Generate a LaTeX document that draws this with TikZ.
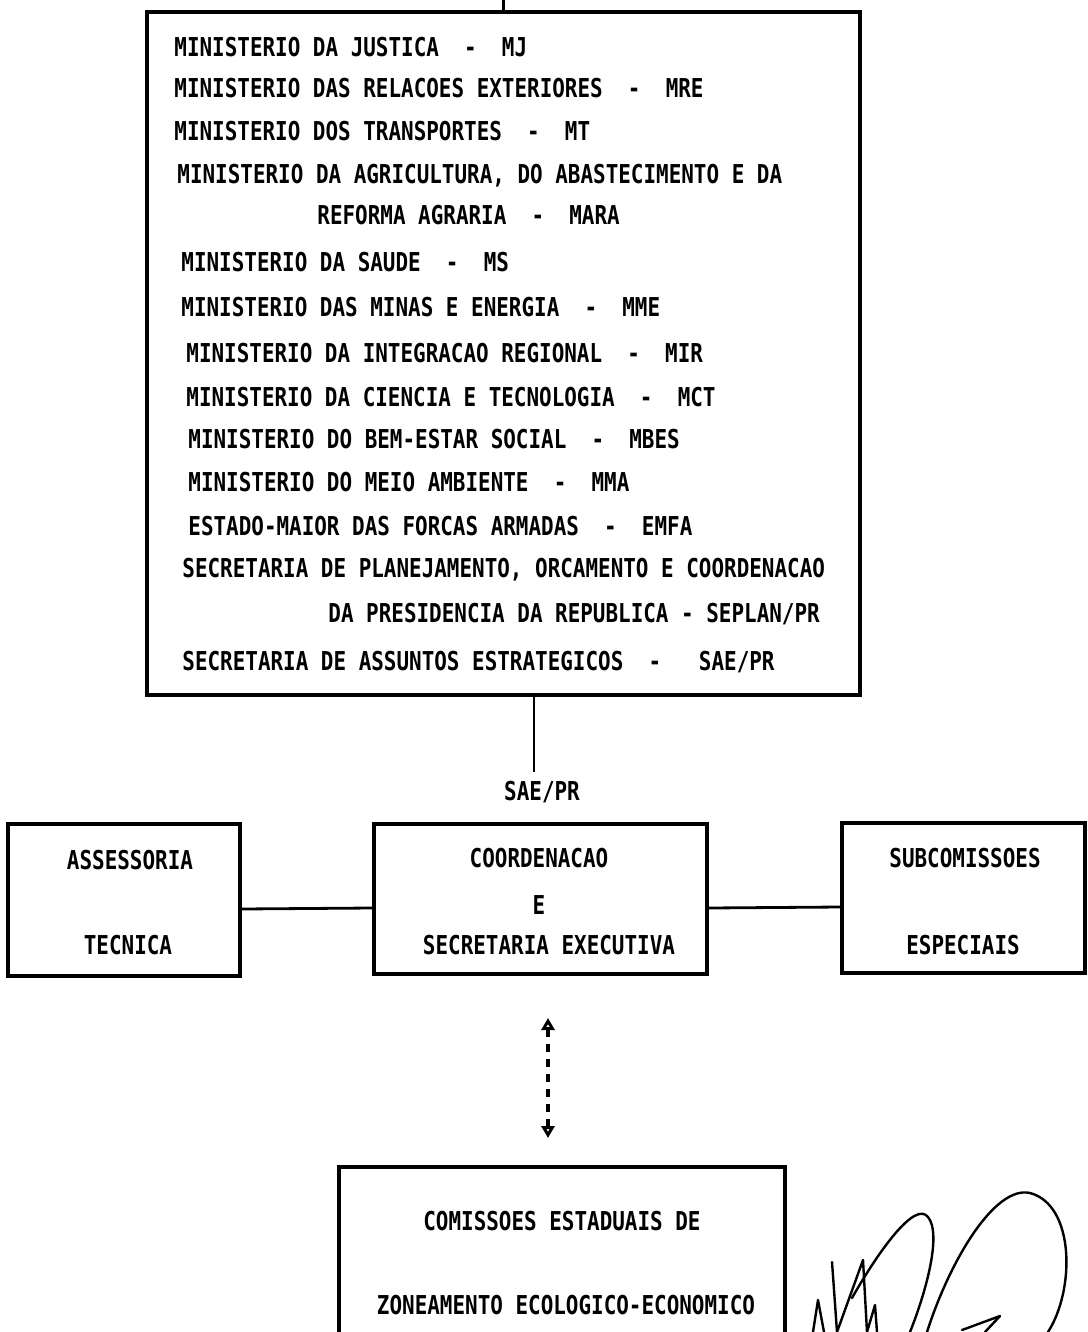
\documentclass[tikz,border=0pt]{standalone}
\usepackage{fontspec}
\setmonofont{DejaVu Sans Mono}[FakeStretch=0.805]
\usetikzlibrary{arrows.meta}

% dash with two spaces on each side, as typed
\newcommand{\dsh}{~~-~~}

\tikzset{
  box/.style={draw, line width=1.9pt, inner sep=0pt},
  txt/.style={inner sep=0pt, font=\fontsize{13}{16}\selectfont\ttfamily\bfseries},
  link/.style={line width=1.4pt},
  dblarrow/.style={line width=1.8pt, dash pattern=on 4pt off 3.5pt,
    {Triangle[open,length=6pt,width=6.5pt]}-{Triangle[open,length=6pt,width=6.5pt]}},
  sign/.style={line width=1.2pt, line cap=round, line join=round}
}

\begin{document}
\begin{tikzpicture}[x=0.5pt, y=-0.5pt]
    \useasboundingbox (0,0) rectangle (1087,1332);
    \clip (0,0) rectangle (1087,1332);

    % Box with the members
    \node[box, minimum width=356.5pt, minimum height=341.5pt] (members) at (503.5,353.5) {};
    \coordinate (up) at (503.5,0);
    \draw[link] (members.north) -- (up);

    \node[txt, anchor=west] (mj)   at (174,47)  {MINISTERIO DA JUSTICA\dsh MJ};
    \node[txt, anchor=west] (mre)  at (174,88)  {MINISTERIO DAS RELACOES EXTERIORES\dsh MRE};
    \node[txt, anchor=west] (mt)   at (174,131) {MINISTERIO DOS TRANSPORTES\dsh MT};
    \node[txt, anchor=west] (mara) at (177,176) {MINISTERIO DA AGRICULTURA, DO ABASTECIMENTO E DA};
    \node[txt, anchor=west] (mara2) at (317,215) {REFORMA AGRARIA\dsh MARA};
    \node[txt, anchor=west] (ms)   at (181,262) {MINISTERIO DA SAUDE\dsh MS};
    \node[txt, anchor=west] (mme)  at (181,307) {MINISTERIO DAS MINAS E ENERGIA\dsh MME};
    \node[txt, anchor=west] (mir)  at (186,353) {MINISTERIO DA INTEGRACAO REGIONAL\dsh MIR};
    \node[txt, anchor=west] (mct)  at (186,397) {MINISTERIO DA CIENCIA E TECNOLOGIA\dsh MCT};
    \node[txt, anchor=west] (mbes) at (188,439) {MINISTERIO DO BEM-ESTAR SOCIAL\dsh MBES};
    \node[txt, anchor=west] (mma)  at (188,482) {MINISTERIO DO MEIO AMBIENTE\dsh MMA};
    \node[txt, anchor=west] (emfa) at (188,526) {ESTADO-MAIOR DAS FORCAS ARMADAS\dsh EMFA};
    \node[txt, anchor=west] (seplan) at (182,570) {SECRETARIA DE PLANEJAMENTO, ORCAMENTO E COORDENACAO};
    \node[txt, anchor=west] (seplan2) at (328,614) {DA PRESIDENCIA DA REPUBLICA - SEPLAN/PR};
    \node[txt, anchor=west] (sae)  at (182,662) {SECRETARIA DE ASSUNTOS ESTRATEGICOS\dsh~SAE/PR};

    % Link down to the coordination
    \node[txt] (saepr) at (542,792) {SAE/PR};
    \coordinate (cut) at (534,772);
    \draw[link] (members.south -| cut) -- (cut);

    % Middle row
    \node[box, minimum width=116pt, minimum height=76pt] (ast) at (124,900) {};
    \node[box, minimum width=166.5pt, minimum height=75pt] (coord) at (540.5,899) {};
    \node[box, minimum width=121.5pt, minimum height=75pt] (subc) at (963.5,898) {};

    \node[txt] (ast1) at (130,860) {ASSESSORIA};
    \node[txt] (ast2) at (128,945) {TECNICA};
    \node[txt] (coord1) at (539,858) {COORDENACAO};
    \node[txt] (coord2) at (539,905) {E};
    \node[txt] (coord3) at (549,945) {SECRETARIA EXECUTIVA};
    \node[txt] (subc1) at (965,858) {SUBCOMISSOES};
    \node[txt] (subc2) at (963,945) {ESPECIAIS};

    \draw[link] ([yshift=-4.5pt]ast.east) -- ([yshift=-4.5pt]coord.west);
    \draw[link] ([yshift=-4.5pt]coord.east) -- ([yshift=-4.5pt]subc.west);

    % Dashed link to the state commissions
    \coordinate (arrtop) at (548,1018);
    \coordinate (arrbot) at (548,1138);
    \draw[dblarrow] (arrbot) -- (arrtop);

    \node[box, minimum width=223pt, minimum height=133pt] (cee) at (562,1300) {};
    \node[txt] (cee1) at (562,1221) {COMISSOES ESTADUAIS DE};
    \node[txt] (cee2) at (566,1305) {ZONEAMENTO ECOLOGICO-ECONOMICO};

    % Signature
    \draw[sign] (813,1332) -- (818,1300) -- (824,1332);
    \draw[sign] (832,1262) -- (837,1332) -- (863,1260) -- (867,1332)
        -- (875,1305) -- (877,1332);
    \draw[sign] (852,1298) .. controls (878,1252) and (915,1200) .. (928,1217)
        .. controls (942,1234) and (926,1292) .. (910,1332);
    \draw[sign] (927,1332) .. controls (950,1260) and (995,1185) .. (1030,1193)
        .. controls (1075,1205) and (1075,1290) .. (1048,1332);
    \draw[sign] (962,1330) -- (1000,1316) -- (985,1332);

\end{tikzpicture}
\end{document}
